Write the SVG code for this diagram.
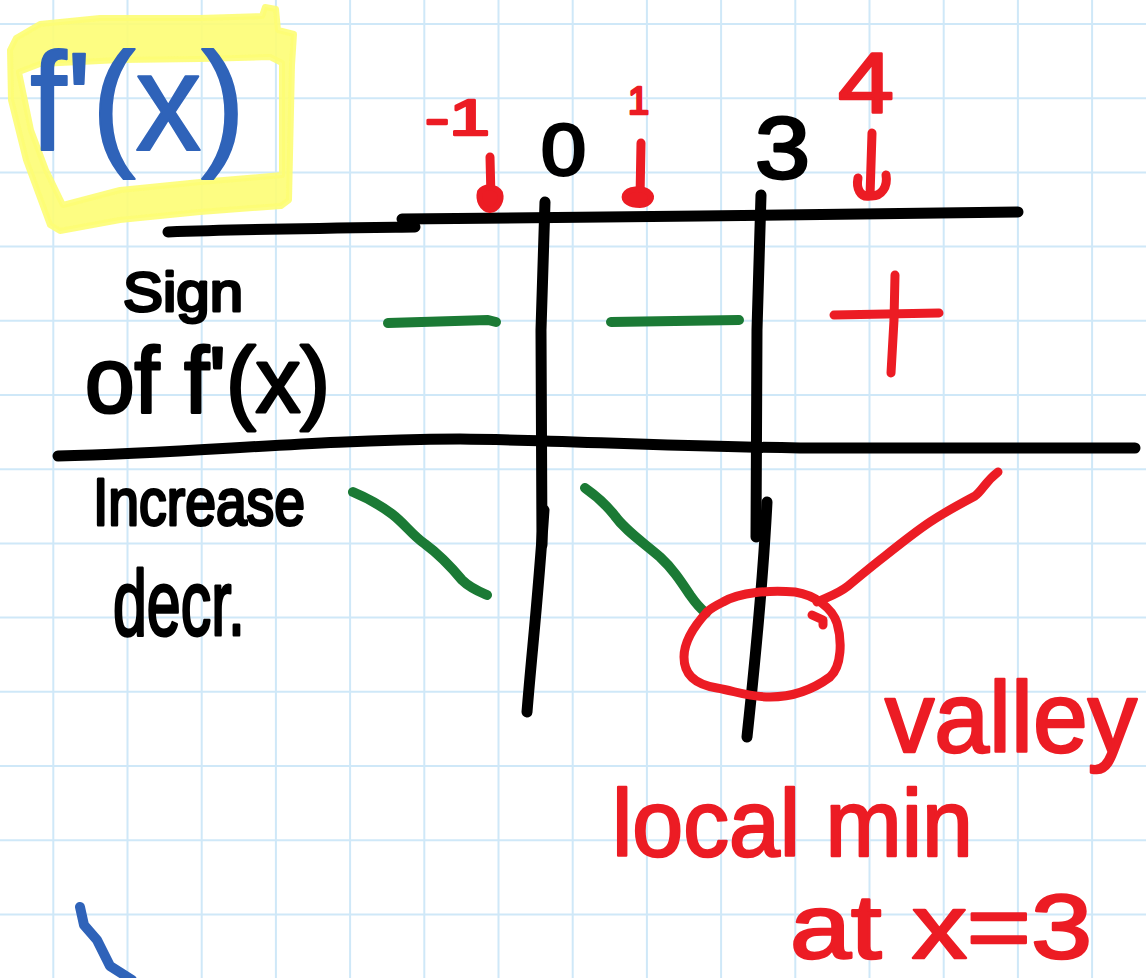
<svg xmlns="http://www.w3.org/2000/svg" width="1146" height="978" viewBox="0 0 1146 978">
<style>
.grid line{stroke:#cfe8f8;stroke-width:2}
.ink{fill:none;stroke-linecap:round;stroke-linejoin:round}
.blk{stroke:#000;stroke-width:11}
.grn{stroke:#1b7a35;stroke-width:10}
.red{stroke:#ec1c24;stroke-width:9}
.blu{stroke:#2f63b9;stroke-width:10}
.head{fill:#ec1c24;stroke:#ec1c24;stroke-width:6;stroke-linejoin:round}
.t{font-family:"Liberation Sans","Noto Sans",sans-serif;stroke-linejoin:round}
.tr{fill:#ec1c24;stroke:#ec1c24;stroke-width:2.5}
.tk{fill:#000;stroke:#000;stroke-width:3}
.tb{fill:#2f63b9;stroke:#2f63b9;stroke-width:2}
</style>
<rect width="1146" height="978" fill="#fff"/>
<g class="grid">
<line x1="53.3" y1="0" x2="53.3" y2="978"/><line x1="127.5" y1="0" x2="127.5" y2="978"/><line x1="201.7" y1="0" x2="201.7" y2="978"/><line x1="275.9" y1="0" x2="275.9" y2="978"/><line x1="350.1" y1="0" x2="350.1" y2="978"/><line x1="424.3" y1="0" x2="424.3" y2="978"/><line x1="498.5" y1="0" x2="498.5" y2="978"/><line x1="572.7" y1="0" x2="572.7" y2="978"/><line x1="646.9" y1="0" x2="646.9" y2="978"/><line x1="721.1" y1="0" x2="721.1" y2="978"/><line x1="795.3" y1="0" x2="795.3" y2="978"/><line x1="869.5" y1="0" x2="869.5" y2="978"/><line x1="943.7" y1="0" x2="943.7" y2="978"/><line x1="1017.9" y1="0" x2="1017.9" y2="978"/><line x1="1092.1" y1="0" x2="1092.1" y2="978"/>
<line x1="0" y1="24" x2="1146" y2="24"/><line x1="0" y1="98.2" x2="1146" y2="98.2"/><line x1="0" y1="172.4" x2="1146" y2="172.4"/><line x1="0" y1="246.6" x2="1146" y2="246.6"/><line x1="0" y1="320.8" x2="1146" y2="320.8"/><line x1="0" y1="395" x2="1146" y2="395"/><line x1="0" y1="469.2" x2="1146" y2="469.2"/><line x1="0" y1="543.4" x2="1146" y2="543.4"/><line x1="0" y1="617.6" x2="1146" y2="617.6"/><line x1="0" y1="691.8" x2="1146" y2="691.8"/><line x1="0" y1="766" x2="1146" y2="766"/><line x1="0" y1="840.2" x2="1146" y2="840.2"/><line x1="0" y1="914.4" x2="1146" y2="914.4"/>
</g>
<g id="title">
<path fill="#fdfd74" fill-opacity="0.9" stroke="#fdfd74" stroke-opacity="0.9" stroke-width="6" stroke-linejoin="round" fill-rule="evenodd" d="M10,50 L16,38 L40,24 L100,18 L200,18 L262,16 L265,7 L276,9 L278,30 L294,34 L292,65 L289,200 L281,206 L200,212 L120,220 L60,231 L50,225 L26,160 L11,100 Z M19,72 L40,64 L120,60 L200,59 L270,57 L282,63 L282,175 L200,182 L120,190 L63,205 L46,170 L31,130 Z"/>
<text class="t tb" x="30" y="150" font-size="140" textLength="215" lengthAdjust="spacingAndGlyphs">f'(x)</text>
</g>
<g id="table" class="ink blk">
<path d="M168,232 C250,229 340,228 415,227"/>
<path d="M402,219 L700,216 L1018,212"/>
<path d="M58,456 C200,453 300,440 460,439 C560,440 650,446 800,448 L1135,448"/>
<path d="M545,202 L541,330 L542,545"/>
<path d="M544,510 C538,600 532,650 527,712"/>
<path d="M761,195 L757,330 L756,537"/>
<path d="M767,502 C762,600 754,670 747,737"/>
</g>
<g id="labels-x">
<text class="t tr" x="425" y="135" font-size="50" textLength="65" lengthAdjust="spacingAndGlyphs">-1</text>
<text class="t tk" x="541" y="175" font-size="72" textLength="45" lengthAdjust="spacingAndGlyphs">0</text>
<text class="t tr" x="628" y="114" font-size="38">1</text>
<text class="t tk" x="755" y="178" font-size="88" textLength="55" lengthAdjust="spacingAndGlyphs">3</text>
<text class="t tr" x="838" y="112" font-size="86" textLength="56" lengthAdjust="spacingAndGlyphs">4</text>
</g>
<g id="row-labels">
<text class="t tk" x="123" y="311" font-size="56" textLength="120" lengthAdjust="spacingAndGlyphs">Sign</text>
<text class="t tk" x="85" y="412" font-size="92" textLength="245" lengthAdjust="spacingAndGlyphs">of f'(x)</text>
<text class="t tk" x="93" y="525" font-size="66" textLength="212" lengthAdjust="spacingAndGlyphs">Increase</text>
<text class="t tk" x="113" y="635" font-size="92" textLength="132" lengthAdjust="spacingAndGlyphs">decr.</text>
</g>
<g id="signs" class="ink">
<path class="grn" d="M388,323 L488,320 L496,322"/>
<path class="grn" d="M611,322 L739,320"/>
<path class="red" d="M834,315 L939,313"/>
<path class="red" d="M895,275 L894,320 L891,373"/>
</g>
<g id="connectors" class="ink">
<path class="red" d="M490,157 L491,198"/>
<path class="head" d="M480,192 C484,186 496,186 500,193 C502,200 498,209 490,210 C482,209 478,200 480,192 Z"/>
<path class="red" d="M641,143 L640,198"/>
<path class="head" d="M625,195 C628,188 642,188 648,192 C654,197 650,205 640,205 C630,205 623,201 625,195 Z"/>
<path class="red" d="M872,133 L870,196 C860,198 856,188 858,178 M870,196 C882,197 888,186 886,175"/>
<path class="grn" d="M353,492 C365,497 380,505 392,514 C405,524 412,535 425,544 C440,555 452,568 462,580 C470,588 480,592 487,595"/>
<path class="grn" d="M585,488 C595,495 605,503 615,516 C625,530 640,540 660,557 C672,568 680,580 690,595 C697,605 702,610 706,613"/>
<path class="red" d="M707,612 C695,625 684,640 684,657 C684,672 692,684 717,688 C735,691 748,697 770,697 C795,697 815,688 830,677 C842,666 842,640 837,623 C832,608 815,595 795,592 C770,590 740,592 723,602 C715,606 710,609 707,612 Z"/>
<path class="red" d="M812,615 L823,620 L823,625"/>
<path class="red" d="M817,602 C828,597 838,594 848,586 C860,576 872,566 885,556 C900,544 915,532 930,522 C945,512 960,504 975,496 C983,490 985,482 998,472"/>
</g>
<g id="note">
<text class="t tr" x="885" y="752" font-size="100" textLength="252" lengthAdjust="spacingAndGlyphs">valley</text>
<text class="t tr" x="612" y="856" font-size="95" textLength="361" lengthAdjust="spacingAndGlyphs">local min</text>
<text class="t tr" x="790" y="958" font-size="90" textLength="302" lengthAdjust="spacingAndGlyphs">at x=3</text>
</g>
<g id="stray" class="ink">
<path class="blu" d="M80,907 L84,925 L97,940 L110,966 L132,980"/>
</g>
</svg>
